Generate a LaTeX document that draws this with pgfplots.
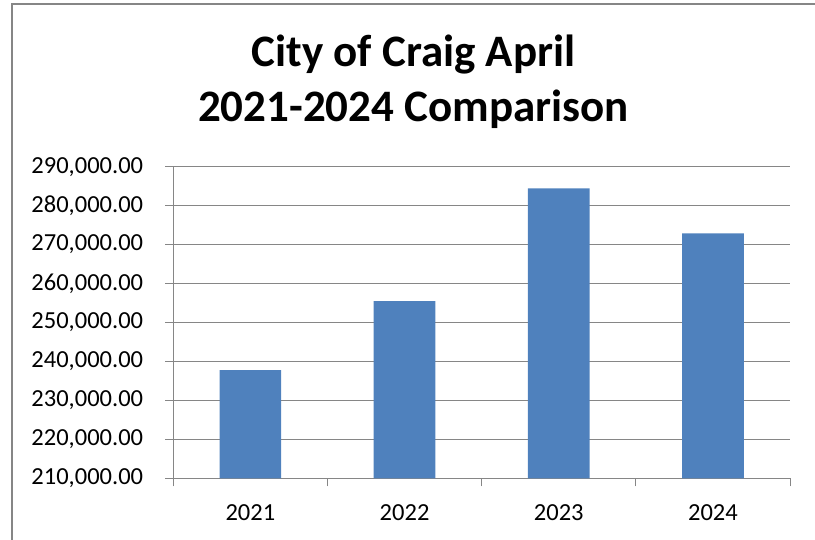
\documentclass[border=0pt]{standalone}
\usepackage{fontspec}
\setmainfont{Carlito}
\usepackage{pgfplots}
\usepackage{pgfplotstable}
\pgfplotsset{compat=1.18}
\definecolor{barblue}{HTML}{4F81BD}
\definecolor{gridgray}{HTML}{868686}

% April totals
\pgfplotstableread{
x year value
0 2021 237800
1 2022 255500
2 2023 284400
3 2024 272850
}\aprildata

\begin{document}
\begin{tikzpicture}[x=1bp,y=1bp]
\useasboundingbox (0,0) rectangle (815,540);
% chart area border (only top and left show in the crop)
\draw[gridgray, line width=1.6bp] (12,-5) -- (12,536) -- (825,536);
\node[font=\fontsize{45bp}{55bp}\selectfont\bfseries, anchor=base, inner sep=0pt] at (413.5,473.3) {City of Craig April};
\node[font=\fontsize{45bp}{55bp}\selectfont\bfseries, anchor=base, inner sep=0pt] at (413.5,418.3) {2021-2024 Comparison};
\begin{axis}[
    at={(173.3bp,61.7bp)}, anchor=south west,
    scale only axis,
    width=616.7bp, height=311.6bp,
    xmin=-0.5, xmax=3.5,
    ymin=210000, ymax=290000,
    axis lines=left,
    axis line style={-, gridgray, line width=0.9bp},
    ybar, bar width=0.4, bar shift=0pt,
    xtick={0,1,2,3},
    xticklabels={2021,2022,2023,2024},
    minor xtick={-0.5,0.5,1.5,2.5,3.5},
    major x tick style={draw=none},
    minor x tick style={gridgray, line width=0.9bp},
    ytick={210000,220000,...,290000},
    y tick style={gridgray, line width=0.9bp},
    tick align=outside,
    major tick length=8bp, minor tick length=8bp,
    ymajorgrids,
    grid style={gridgray, line width=0.9bp},
    tick label style={font=\fontsize{24.5bp}{29bp}\selectfont},
    yticklabel style={anchor=east, inner sep=0pt, xshift=-22bp},
    xticklabel style={anchor=north, inner sep=0pt, yshift=-18bp},
    scaled y ticks=false,
    /pgf/number format/.cd, fixed, fixed zerofill, precision=2, 1000 sep={,}, assume math mode=true,
]
\addplot[fill=barblue, draw=none] table[x=x, y=value] {\aprildata};
\end{axis}
\end{tikzpicture}
\end{document}
